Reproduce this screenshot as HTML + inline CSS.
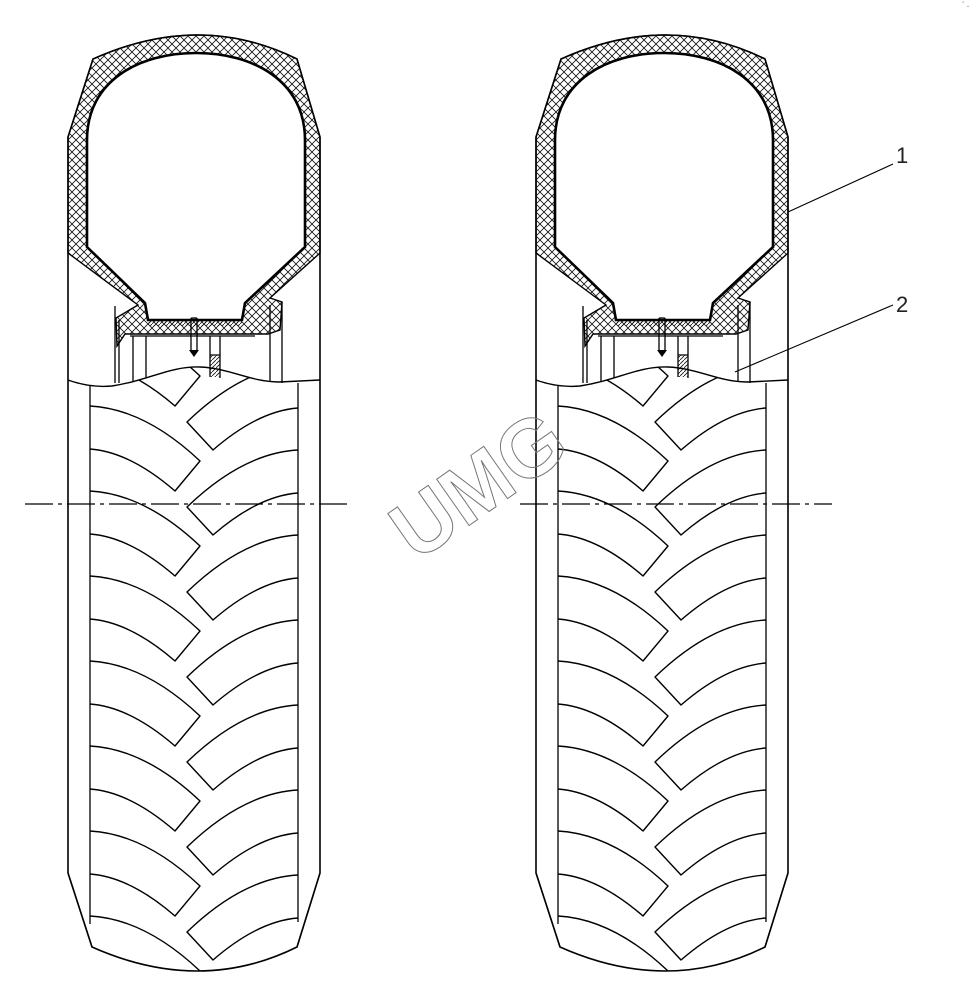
<!DOCTYPE html>
<html><head><meta charset="utf-8"><style>html,body{margin:0;padding:0;background:#fff}svg{display:block}</style></head>
<body>
<svg width="978" height="1000" viewBox="0 0 978 1000" xmlns="http://www.w3.org/2000/svg">
<defs>
<pattern id="xh" width="8" height="8" patternUnits="userSpaceOnUse">
<path d="M0,0 L8,8 M8,0 L0,8" stroke="#111" stroke-width="0.8"/>
</pattern>
<pattern id="dh" width="4" height="4" patternUnits="userSpaceOnUse">
<path d="M0,4 L4,0" stroke="#111" stroke-width="0.8"/>
</pattern>
<clipPath id="tc">
<path d="M68,380 Q90,388 112,386 C150,380 170,366 200,367 C230,368 250,382 280,382 L320,380 L320,873 L297,947 Q200,995 92,947 L68,873 Z"/>
</clipPath>
<g id="tire">
<path d="M68,873 L68,137 L93,59 Q200,11 297,59 L320,137 L320,873 L297,947 Q200,995 92,947 Z" fill="none" stroke="#000" stroke-width="1.6"/>
<path fill-rule="evenodd" fill="url(#xh)" stroke="#000" stroke-width="1.4"
 d="M68,137 L93,59 Q200,11 297,59 L320,137 L320,253 L270,298 L282,302 L280,330 L268,334 L125,334 L117,346 L116,318 L138,305 L68,253 Z
    M87,247 L87,140 C87,80 140,53 196,53 C252,53 305,80 305,140 L305,247 L245,303 L242,320 L148,320 L145,303 Z"/>
<path d="M87,247 L87,140 C87,80 140,53 196,53 C252,53 305,80 305,140 L305,247 L245,303 L242,320 L148,320 L145,303 Z" fill="#fff" stroke="#000" stroke-width="2.6"/>
<rect x="148" y="321" width="94" height="5" fill="url(#dh)"/>
<g stroke="#000" stroke-width="1.3" fill="none">
<path d="M115,306 L115,383 M119,320 L119,383"/>
<path d="M133,336 L133,381 M146,336 L146,378 M130,336 L255,336"/>
<path d="M191,318 L191,350 M197,318 L197,350 M191,318 L197,318"/>
<path d="M210,336 L210,377 M220,336 L220,378 M210,355 L220,355"/>
<path d="M270,305 L270,382 M282,302 L282,383"/>
</g>
<path d="M189,350 L199,350 L194,357 Z" fill="#000"/>
<rect x="210" y="355" width="10" height="22" fill="url(#dh)"/>
<path d="M68,380 Q90,388 112,386 C150,380 170,366 200,367 C230,368 250,382 280,382 L320,380" fill="none" stroke="#000" stroke-width="1.4"/>
<path d="M90,385 L90,924 M298,383 L298,922 M68,873 L92,947 M320,873 L297,947" stroke="#000" stroke-width="1.3" fill="none"/>
<g clip-path="url(#tc)" fill="none" stroke="#000" stroke-width="1.4" stroke-linejoin="round">
<path id="L" d="M90,0 Q145,3 200,55 L175,85 Q130,46 90,43"/>
<use href="#L" y="321"/><use href="#L" y="406"/><use href="#L" y="491"/><use href="#L" y="576"/><use href="#L" y="661"/><use href="#L" y="746"/><use href="#L" y="831"/><use href="#L" y="916"/>
<path id="R" d="M298,0 Q243,3 187,57 L213,85 Q258,46 298,43"/>
<use href="#R" y="365"/><use href="#R" y="450"/><use href="#R" y="535"/><use href="#R" y="620"/><use href="#R" y="705"/><use href="#R" y="790"/><use href="#R" y="875"/>
</g>
</g>
</defs>
<use href="#tire"/>
<use href="#tire" x="468"/>
<path d="M25,504 L352,504 M520,504 L832,504" stroke="#000" stroke-width="1.2" stroke-dasharray="28,5,4,5"/>
<text x="0" y="0" transform="translate(482,490) rotate(-35)" text-anchor="middle" dominant-baseline="middle" font-family="Liberation Sans, sans-serif" font-size="82" font-weight="bold" fill="none" stroke="#777" stroke-width="1">UMG</text>
<path d="M893,164 L788,212 M893,305 L735,372" stroke="#000" stroke-width="1.1"/>
<text x="896" y="163" font-family="Liberation Sans, sans-serif" font-size="22" fill="#222">1</text>
<text x="896" y="312" font-family="Liberation Sans, sans-serif" font-size="22" fill="#222">2</text>
<text x="962" y="9" font-family="Liberation Sans, sans-serif" font-size="9" fill="#999">ﾞ-</text>
</svg>
</body></html>
